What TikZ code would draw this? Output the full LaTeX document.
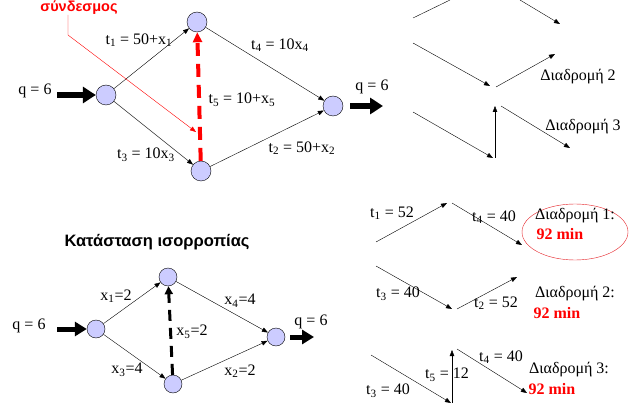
\documentclass[tikz,border=0pt]{standalone}
\usepackage{fontspec}
\setmainfont{Liberation Serif}
\newfontfamily\arialfont{Liberation Sans}
\usetikzlibrary{arrows.meta,shapes.geometric}

\definecolor{nodeblue}{RGB}{204,204,255}
\definecolor{ovalred}{RGB}{228,30,36}

\begin{document}
\begin{tikzpicture}[
  x=1pt, y=-1pt,
  >={Triangle[length=6pt,width=4.5pt]},
  nd/.style={circle, draw, thin, fill=nodeblue, minimum size=20pt, inner sep=0pt},
  ndsmall/.style={nd, minimum size=18pt},
  lbl/.style={font=\fontsize{16}{18}\selectfont, inner sep=0pt},
  minlbl/.style={lbl, font=\fontsize{16}{18}\selectfont\bfseries, text=red},
  edge/.style={->, thin},
  bigarrow/.style={line width=5.5pt, -{Triangle[length=13pt,width=16pt]}},
  linkdash/.style={red, line width=4pt, dash pattern=on 13pt off 8pt,
                   -{Triangle[length=10pt,width=9pt]}},
  eqdash/.style={black, line width=3pt, dash pattern=on 11pt off 7pt,
                 -{Triangle[length=8pt,width=8pt]}},
  route/.style={->, thin},
]
\useasboundingbox (0,0) rectangle (635,409);

% ---- network with the link (top left) ----------------------------------------
\node[nd] (s)  at (106,95)  {};
\node[nd] (a)  at (197,22)  {};
\node[nd] (b)  at (201,171) {};
\node[nd] (d)  at (333,106) {};

\foreach \u/\v in {s/a, s/b, a/d, b/d}
  \draw[edge] (\u) -- (\v);
\draw[linkdash] (b) -- (a);

\coordinate (qin)  at (57,95);
\coordinate (qout) at (383,106);
\draw[bigarrow] (qin) -- (s);
\draw[bigarrow, shorten <=7pt] (d) -- (qout);

\node[lbl] (qinlbl)  at (35,91)  {q = 6};
\node[lbl] (qoutlbl) at (372,87) {q = 6};
\node[lbl] (t1) at (139,40)  {t\textsubscript{1} = 50+x\textsubscript{1}};
\node[lbl] (t4) at (280,45)  {t\textsubscript{4} = 10x\textsubscript{4}};
\node[lbl] (t5) at (242,100) {t\textsubscript{5} = 10+x\textsubscript{5}};
\node[lbl] (t3) at (146,155) {t\textsubscript{3} = 10x\textsubscript{3}};
\node[lbl] (t2) at (302,148) {t\textsubscript{2} = 50+x\textsubscript{2}};

% the pointer to the new link
\node[font=\arialfont\fontsize{14.5}{16}\selectfont\bfseries, text=red, inner sep=0pt]
  (link) at (79,7.5) {σύνδεσμος};
\coordinate (linkbend) at (68,35);
\coordinate (linktip)  at (196,132);
\draw[red, thin, ->] (68,15) -- (linkbend) -- (linktip);

% ---- paths of the first network (top right) -----------------------------------
\coordinate (p1a) at (413,18);  \coordinate (p1b) at (450,0);
\coordinate (p1c) at (520,0);   \coordinate (p1d) at (560,24);
\draw[thin] (p1a) -- (p1b);
\draw[route] (p1c) -- (p1d);

\coordinate (p2a) at (413,43);  \coordinate (p2b) at (490,86);
\coordinate (p2c) at (496,87);  \coordinate (p2d) at (555,54);
\draw[route] (p2a) -- (p2b);
\draw[route] (p2c) -- (p2d);
\node[lbl] (path2) at (578,77) {Διαδρομή 2};

\coordinate (p3a) at (413,112); \coordinate (p3b) at (493,158);
\coordinate (p3c) at (495,158); \coordinate (p3d) at (495,106);
\coordinate (p3e) at (501,106); \coordinate (p3f) at (570,148);
\draw[route] (p3a) -- (p3b);
\draw[route] (p3c) -- (p3d);
\draw[route] (p3e) -- (p3f);
\node[lbl] (path3) at (583,127) {Διαδρομή 3};

% ---- equilibrium (bottom left) ----------------------------------------------
\node[font=\arialfont\fontsize{16.5}{18}\selectfont\bfseries, inner sep=0pt]
  (eqtitle) at (157,242) {Κατάσταση ισορροπίας};

\node[ndsmall] (es) at (96,329)  {};
\node[ndsmall] (ea) at (168,277) {};
\node[ndsmall] (eb) at (173,384) {};
\node[ndsmall] (ed) at (276,337) {};

\foreach \u/\v in {es/ea, es/eb, ea/ed, eb/ed}
  \draw[edge] (\u) -- (\v);
\draw[eqdash] (eb) -- (ea);

\coordinate (eqin)  at (57,329);
\coordinate (eqout) at (314,337);
\draw[bigarrow, line width=5pt, -{Triangle[length=12pt,width=14pt]}] (eqin) -- (es);
\draw[bigarrow, line width=5pt, -{Triangle[length=12pt,width=14pt]}, shorten <=5pt] (ed) -- (eqout);

\node[lbl] (eqinlbl)  at (29,326) {q = 6};
\node[lbl] (eqoutlbl) at (311,322) {q = 6};
\node[lbl] (x1) at (116,296) {x\textsubscript{1}=2};
\node[lbl] (x4) at (240,301) {x\textsubscript{4}=4};
\node[lbl] (x5) at (192,332) {x\textsubscript{5}=2};
\node[lbl] (x3) at (127,370) {x\textsubscript{3}=4};
\node[lbl] (x2) at (240,371) {x\textsubscript{2}=2};

% ---- path times at equilibrium (bottom right) ---------------------------------
\coordinate (q1a) at (376,242); \coordinate (q1b) at (447,203);
\coordinate (q1c) at (452,203); \coordinate (q1d) at (522,245);
\draw[route] (q1a) -- (q1b);
\draw[route] (q1c) -- (q1d);
\node[lbl] (q1t1) at (392,213) {t\textsubscript{1} = 52};
\node[lbl] (q1t4) at (494,217) {t\textsubscript{4} = 40};
\node[draw=ovalred, thin, ellipse, minimum width=106pt, minimum height=56pt]
  (best) at (575,232) {};
\node[lbl] (path1eq) at (575,216) {Διαδρομή 1:};
\node[minlbl] (min1) at (560,234) {92 min};

\coordinate (q2a) at (376,266); \coordinate (q2b) at (452,309);
\coordinate (q2c) at (457,309); \coordinate (q2d) at (517,277);
\draw[route] (q2a) -- (q2b);
\draw[route] (q2c) -- (q2d);
\node[lbl] (q2t3) at (398,294) {t\textsubscript{3} = 40};
\node[lbl] (q2t2) at (496,303) {t\textsubscript{2} = 52};
\node[lbl] (path2eq) at (575,294) {Διαδρομή 2:};
\node[minlbl] (min2) at (557,313) {92 min};

\coordinate (q3a) at (371,355); \coordinate (q3b) at (451,403);
\coordinate (q3c) at (452,403); \coordinate (q3d) at (452,350);
\coordinate (q3e) at (457,349); \coordinate (q3f) at (527,393);
\draw[route] (q3a) -- (q3b);
\draw[route] (q3c) -- (q3d);
\draw[route] (q3e) -- (q3f);
\node[lbl] (q3t3) at (388,391) {t\textsubscript{3} = 40};
\node[lbl] (q3t5) at (447,375) {t\textsubscript{5} = 12};
\node[lbl] (q3t4) at (501,357) {t\textsubscript{4} = 40};
\node[lbl] (path3eq) at (569,370) {Διαδρομή 3:};
\node[minlbl] (min3) at (552,389) {92 min};
\end{tikzpicture}
\end{document}
